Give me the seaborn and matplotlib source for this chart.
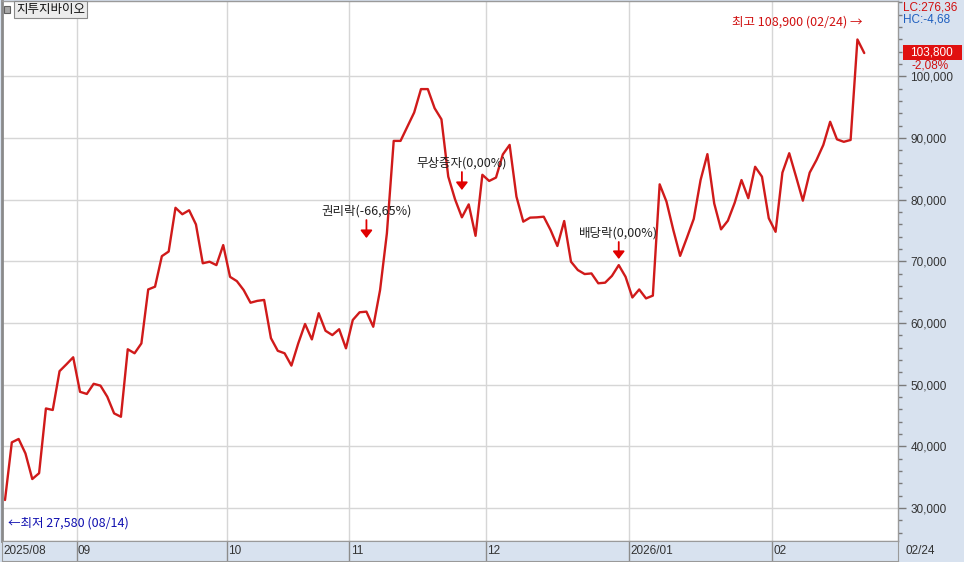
import numpy as np
import pandas as pd
import matplotlib
matplotlib.use("Agg")
import matplotlib.pyplot as plt
import matplotlib.transforms as mtransforms
from matplotlib.patches import Rectangle
from matplotlib.ticker import MultipleLocator, FixedLocator, FuncFormatter
import seaborn as sns

# ---------------- data ----------------
close = [
    31300, 40650, 41200, 38850, 34700, 35650, 46150, 45900, 52200, 53300,
    54450, 48850, 48500, 50150, 49850, 48050, 45350, 44800, 55750, 55100,
    56700, 65450, 65900, 70850, 71600, 78700, 77650, 78300, 76000, 69700,
    69950, 69400, 72650, 67500, 66800, 65350, 63300, 63600, 63750, 57550,
    55500, 55100, 53100, 56700, 59850, 57350, 61600, 58750, 58050, 59000,
    55900, 60500, 61750, 61850, 59400, 65350, 74550, 89550, 89550, 91850,
    94150, 97950, 97950, 94850, 93050, 83750, 80050, 77150, 79250, 74150,
    84050, 83050, 83600, 87350, 88900, 80500, 76450, 77100, 77150, 77250,
    75100, 72500, 76550, 69950, 68600, 67950, 68050, 66450, 66550, 67650,
    69400, 67500, 64150, 65450, 64000, 64450, 82500, 79700, 75100, 70900,
    73850, 76900, 83200, 87400, 79400, 75200, 76600, 79500, 83200, 80250,
    85350, 83750, 77000, 74800, 84400, 87550, 83750, 79850, 84400, 86450,
    88900, 92650, 89800, 89400, 89700, 106000, 103800,
]
day_index = list(range(len(close)))

month_start_idx = [11, 33, 51, 71, 92, 113]
month_labels = ["09", "10", "11", "12", "2026/01", "02"]
first_label = "2025/08"
last_label = "02/24"
y_ticks = [30000, 40000, 50000, 60000, 70000, 80000, 90000, 100000]

title = "지투지바이오"
high_value, high_text = 108900, "최고 108,900 (02/24) →"
low_value, low_text = 27580, "←최저 27,580 (08/14)"
last_price_text, change_text = "103,800", "-2,08%"
lc_text, hc_text = "LC:276,36", "HC:-4,68"

event_idx = [53, 67, 90]
event_labels = ["권리락(-66,65%)", "무상증자(0,00%)", "배당락(0,00%)"]
# annotation placement (text y, arrow top, arrow tip) in price units
event_text_y = [78170, 85960, 74600]
event_arrow_top = [76710, 84500, 73150]
event_arrow_tip = [73790, 81580, 70390]

# ---------------- style ----------------
sns.set_style("white")
plt.rcParams["font.family"] = ["Noto Sans CJK KR", "DejaVu Sans"]
NUM_FONT = ["Liberation Sans", "DejaVu Sans"]
NUM_SIZE = 8.5

RED = "#d01a1a"
PANEL = "#d8e2ef"
GRID = "#d6d6d6"
EDGE = "#9a9a9a"

W, H = 964, 562
fig = plt.figure(figsize=(W / 100, H / 100), dpi=100, facecolor=PANEL)
ax = fig.add_axes([2 / W, 21 / H, 896 / W, 540 / H])
ax.set_facecolor("white")

df = pd.DataFrame({"day": day_index, "close": close})
sns.lineplot(data=df, x="day", y="close", ax=ax, color=RED, lw=1.7)

ax.set_xlim(-0.44, 130.95)
ax.set_ylim(24650, 112240)
ax.set_xlabel("")
ax.set_ylabel("")
ax.set_xticks([])

# grid
for v in y_ticks:
    ax.axhline(v, color=GRID, lw=1, zorder=0)
for m in month_start_idx:
    ax.axvline(m - 0.5, color=GRID, lw=1, zorder=0)

# right axis
ax.yaxis.tick_right()
ax.yaxis.set_major_locator(FixedLocator(y_ticks))
ax.yaxis.set_minor_locator(MultipleLocator(2000))
ax.yaxis.set_major_formatter(FuncFormatter(lambda v, p: f"{int(v):,}"))
ax.tick_params(axis="y", which="major", direction="out", length=6, width=1,
               color="#7a7a7a", labelsize=NUM_SIZE, labelcolor="#333333", pad=3)
ax.tick_params(axis="y", which="minor", direction="out", length=3, width=1,
               color="#7a7a7a")
for lab in ax.get_yticklabels():
    lab.set_family(NUM_FONT)

for side in ["top", "right", "bottom"]:
    ax.spines[side].set_color(EDGE)
    ax.spines[side].set_linewidth(1)
ax.spines["left"].set_color("#8a8a8a")
ax.spines["left"].set_linewidth(2)

# event annotations
for i, lab, ty, at, tip in zip(event_idx, event_labels, event_text_y,
                               event_arrow_top, event_arrow_tip):
    ax.text(i, ty, lab, ha="center", va="center", fontsize=9, color="#222222")
    ax.annotate("", xy=(i, tip), xytext=(i, at),
                arrowprops=dict(arrowstyle="-|>,head_width=0.35,head_length=0.45",
                                color="#e00000", lw=1.3, shrinkA=0, shrinkB=0))

# high / low
ax.text(125.7, high_value, high_text, ha="right", va="center", fontsize=9,
        color="#d01010")
ax.text(0.44, low_value, low_text, ha="left", va="center", fontsize=9,
        color="#1010b0")

# last price box
trans = mtransforms.blended_transform_factory(ax.transAxes, ax.transData)
ax.add_patch(Rectangle((1.0056, 102700), 0.0658, 2400, transform=trans,
                       facecolor="#e01010", edgecolor="none", clip_on=False, zorder=5))
ax.text(1.013, 103880, last_price_text, transform=trans, ha="left", va="center",
        fontsize=NUM_SIZE, color="white", family=NUM_FONT, zorder=6)
ax.text(1.015, 101700, change_text, transform=trans, ha="left", va="center",
        fontsize=NUM_SIZE, color="#d01010", family=NUM_FONT, zorder=6)

# LC / HC
fig.text(903 / W, 1 - 8 / H, lc_text, ha="left", va="center", fontsize=NUM_SIZE,
         color="#d01010", family=NUM_FONT)
fig.text(903 / W, 1 - 20 / H, hc_text, ha="left", va="center", fontsize=NUM_SIZE,
         color="#1f5fbf", family=NUM_FONT)

# title box + icon
fig.patches.append(Rectangle((4 / W, 1 - 13 / H), 6 / W, 7 / H, transform=fig.transFigure,
                             facecolor="#a8a8a8", edgecolor="#606060", lw=0.8))
fig.text(16 / W, 1 - 9.5 / H, title, ha="left", va="center", fontsize=9, color="#111111",
         bbox=dict(boxstyle="square,pad=0.15", facecolor="#ececec", edgecolor="#8a8a8a", lw=0.8))

# bottom date band
axb = fig.add_axes([2 / W, 1 / H, 896 / W, 20 / H])
axb.set_facecolor(PANEL)
axb.set_xlim(ax.get_xlim())
axb.set_ylim(0, 1)
axb.set_xticks([])
axb.set_yticks([])
for s in axb.spines.values():
    s.set_color(EDGE)
for m, lab in zip(month_start_idx, month_labels):
    axb.axvline(m - 0.5, color="#8c8c8c", lw=1)
    axb.text(m - 0.5 + 0.2, 0.48, lab, ha="left", va="center", fontsize=NUM_SIZE,
             color="#333333", family=NUM_FONT)
axb.text(-0.44 + 0.15, 0.48, first_label, ha="left", va="center", fontsize=NUM_SIZE,
         color="#333333", family=NUM_FONT)
fig.text(905 / W, 1 - 551 / H, last_label, ha="left", va="center", fontsize=NUM_SIZE,
         color="#333333", family=NUM_FONT)

fig.savefig("out.png", dpi=100, facecolor=PANEL)
